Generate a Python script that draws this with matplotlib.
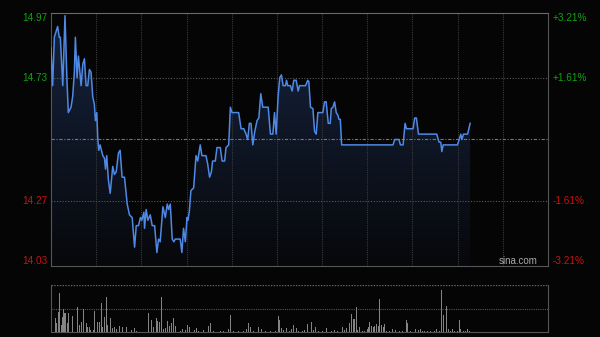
import numpy as np
import matplotlib.pyplot as plt
from matplotlib.colors import LinearSegmentedColormap

plt.rcParams['font.family'] = ['Liberation Sans', 'DejaVu Sans']

# minutes since open (HK session, 330 min) and price
t_price = [0, 1.1, 2.2, 4.4, 5.5, 6.2, 7.8, 9.3, 10.6, 11.5, 13.3, 14.4, 15.5, 16.2, 17.3, 18.2,
           20.0, 21.1, 22.2, 23.3, 24.4, 25.5, 26.6, 27.7, 28.8, 29.5, 30.4, 31.1, 31.7, 32.6,
           34.4, 35.5, 36.2, 37.0, 38.1, 39.3, 41.0, 42.1, 43.3, 44.8, 45.9, 47.2, 48.8, 50.6,
           52.1, 53.9, 55.5, 56.6, 58.1, 59.4, 60.3, 61.7, 62.1, 63.2, 64.3, 65.9, 67.2, 68.8,
           70.3, 71.4, 72.5, 73.2, 74.3, 75.9, 77.2, 78.1, 79.2, 80.5, 81.6,
           82.5, 85.8, 86.9, 88.0, 89.2, 90.3, 90.9, 91.8, 92.9, 94.7, 96.3, 97.4, 99.1, 100.2,
           102.9, 104.0, 105.3, 106.5, 107.3, 109.1, 110.2, 112.4, 113.6, 115.3, 116.2, 118.0,
           119.1, 120.2, 124.6, 126.2, 128.0, 129.5, 130.6, 131.7, 132.8, 134.0, 135.3, 136.8,
           138.0, 139.3, 140.6, 144.2, 145.7, 147.3, 148.4, 149.5, 150.8, 151.9, 153.0, 154.1,
           155.7, 156.4, 157.2, 159.0, 160.1, 161.2, 162.8, 164.1,
           165.0, 169.0, 170.5, 171.2, 172.3, 173.9, 175.0, 176.1, 177.2, 180.5, 181.6, 182.7,
           184.1, 185.4, 186.1, 187.2, 188.3, 189.4, 190.5, 191.2, 192.1, 193.0, 227.1, 228.2,
           231.1, 232.0, 233.8, 235.1, 236.0, 240.4, 241.5, 242.6, 244.0,
           245.5, 256.1, 257.7, 258.8, 259.5, 260.4, 269.9, 271.0, 272.1, 272.8, 273.9, 276.6, 278.3]
price = [14.84, 14.70, 14.88, 14.92, 14.88, 14.88, 14.70, 14.96, 14.72, 14.60, 14.62, 14.66, 14.75, 14.88, 14.73, 14.81,
         14.70, 14.78, 14.80, 14.70, 14.70, 14.76, 14.75, 14.66, 14.63, 14.57, 14.60, 14.50, 14.46, 14.48,
         14.44, 14.43, 14.39, 14.44, 14.35, 14.30, 14.40, 14.37, 14.38, 14.45, 14.46, 14.36, 14.36, 14.26,
         14.22, 14.21, 14.10, 14.18, 14.18, 14.21, 14.20, 14.23, 14.17, 14.24, 14.20, 14.22, 14.18, 14.18,
         14.08, 14.13, 14.12, 14.17, 14.25, 14.21, 14.26, 14.24, 14.26, 14.13, 14.12,
         14.13, 14.13, 14.08, 14.17, 14.12, 14.21, 14.20, 14.23, 14.31, 14.32, 14.44, 14.42, 14.48, 14.44,
         14.44, 14.41, 14.36, 14.38, 14.42, 14.42, 14.47, 14.47, 14.42, 14.42, 14.47, 14.48,
         14.62, 14.60, 14.60, 14.54, 14.54, 14.52, 14.50, 14.56, 14.56, 14.48, 14.53, 14.57,
         14.58, 14.67, 14.62, 14.62, 14.52, 14.52, 14.60, 14.52, 14.66, 14.73, 14.74, 14.70,
         14.70, 14.72, 14.70, 14.70, 14.68, 14.72, 14.72, 14.68,
         14.70, 14.70, 14.72, 14.715, 14.62, 14.615, 14.53, 14.52, 14.60, 14.60, 14.64, 14.64,
         14.56, 14.56, 14.615, 14.62, 14.64, 14.60, 14.59, 14.575, 14.575, 14.48, 14.48, 14.50,
         14.50, 14.48, 14.48, 14.56, 14.54, 14.54, 14.58, 14.58, 14.52,
         14.52, 14.52, 14.49, 14.49, 14.455, 14.48, 14.48, 14.50, 14.52, 14.50, 14.52, 14.52, 14.56]

t_vol = [1.6, 2.9, 3.8, 4.9, 5.5, 6.7, 7.5, 8.2, 8.9, 9.8, 10.9, 11.5, 12.6, 13.3, 14.4, 15.3, 16.6,
         17.7, 18.9, 20.4, 21.5, 22.6, 23.3, 24.2, 25.3, 26.4, 28.2, 28.8, 29.9, 31.0, 32.2, 33.3,
         34.4, 35.5, 36.6, 37.7, 39.7, 41.0, 42.1, 43.7, 45.2, 47.7, 50.3, 53.2, 55.4, 57.0, 64.8,
         66.5, 68.1, 69.9, 71.0, 72.1, 73.6, 74.7, 76.3, 77.6, 78.7, 79.8, 81.4, 82.5, 84.3, 85.8,
         87.6, 89.2, 90.7, 92.0, 93.6, 95.1, 96.5, 98.0, 99.6, 101.3, 102.9, 104.7, 105.8, 108.0,
         110.2, 112.4, 114.6, 118.0, 119.1, 121.3, 124.6, 128.0, 129.7, 131.3, 132.4, 134.6, 137.9,
         139.5, 142.4, 145.7, 149.0, 150.8, 151.9, 153.0, 154.6, 156.3, 158.1, 159.7, 161.2, 162.8,
         164.5, 166.8, 168.4, 170.6, 172.8, 174.1, 175.9, 177.9, 180.1, 182.8, 184.6, 186.3, 188.3,
         190.1, 191.9, 193.4, 195.0, 196.1, 197.2, 198.3, 199.4, 200.7, 201.6, 202.7, 203.8, 205.0,
         206.7, 208.3, 210.1, 210.7, 211.6, 212.7, 214.1, 214.9, 216.3, 217.2, 218.3, 219.4, 220.5,
         221.6, 222.9, 224.5, 226.7, 228.9, 231.1, 233.3, 235.8, 236.7, 238.9, 242.2, 243.8, 245.1,
         246.7, 248.2, 250.0, 252.2, 254.4, 256.2, 257.7, 259.3, 260.6, 262.6, 264.0, 265.1, 266.6,
         268.2, 270.0, 271.3, 272.2, 273.9, 275.5, 276.6, 278.1]
volume = [3, 137, 87, 203, 393, 70, 153, 227, 187, 187, 87, 187, 87, 70, 160, 93, 37,
          253, 70, 103, 227, 53, 93, 53, 47, 20, 20, 213, 227, 103, 103, 287,
          53, 153, 347, 70, 137, 37, 47, 27, 60, 47, 47, 20, 37, 13, 187,
          120, 47, 137, 113, 103, 347, 27, 37, 113, 60, 87, 137, 60, 20, 13,
          27, 20, 70, 47, 70, 20, 37, 13, 60, 20, 27, 60, 93, 13,
          20, 7, 7, 27, 170, 13, 10, 13, 27, 93, 53, 13, 47,
          27, 10, 13, 10, 160, 120, 37, 20, 37, 10, 27, 70, 37,
          13, 13, 20, 80, 103, 20, 53, 13, 10, 37, 13, 13, 20,
          10, 13, 47, 20, 37, 27, 93, 180, 130, 127, 253, 20, 47,
          13, 13, 27, 53, 103, 60, 47, 60, 80, 60, 327, 70, 47,
          80, 13, 10, 27, 20, 10, 10, 120, 87, 10, 27, 20, 27,
          13, 10, 10, 13, 13, 27, 13, 420, 170, 260, 27, 13, 27,
          10, 13, 120, 27, 13, 10, 27, 10]

prev_close = 14.50
left_ticks = [14.97, 14.73, 14.27, 14.03]
right_labels = ['+3.21%', '+1.61%', '-1.61%', '-3.21%']
tick_colors = ['#13a013', '#13a013', '#cc1111', '#cc1111']
tick_va = ['top', 'center', 'center', 'bottom']

bg = '#050505'
fig = plt.figure(figsize=(6, 3.37), dpi=100, facecolor=bg)
ax = fig.add_axes([51/600, 1-266/337, 497/600, 253/337], facecolor=bg)
axv = fig.add_axes([51/600, 1-332/337, 497/600, 47/337], facecolor=bg)

ymin, ymax = 14.03, 14.97
ax.set_xlim(0, 330)
ax.set_ylim(ymin, ymax)

# gradient fill under the price line
poly = ax.fill_between(t_price, price, ymin, color='none', lw=0)
cmap = LinearSegmentedColormap.from_list('g', ['#07080b', '#16243f'])
grad = np.linspace(0, 1, 256).reshape(-1, 1)
im = ax.imshow(grad, cmap=cmap, aspect='auto', origin='lower',
               extent=[0, 330, ymin, ymax], zorder=1)
im.set_clip_path(poly.get_paths()[0], transform=ax.transData)

ax.plot(t_price, price, color='#4f89e6', lw=1.1, zorder=3)

# grid
for t in range(30, 330, 30):
    ax.axvline(t, color='#3a3a3a', lw=0.8, ls=(0, (1, 1)), zorder=2)
for v in [14.73, 14.27]:
    ax.axhline(v, color='#5a5a5a', lw=0.8, ls=(0, (1, 1.5)), zorder=2)
ax.axhline(prev_close, color='#777777', lw=0.8, ls=(0, (3, 1.5, 1, 1.5)), zorder=2)

for s in ax.spines.values():
    s.set_color('#555555')
ax.spines['top'].set_color('#6a6a6a')
ax.set_xticks([])
ax.set_yticks(left_ticks)
ax.set_yticklabels([f'{v:.2f}' for v in left_ticks], fontsize=7.2)
for lab, c, va in zip(ax.get_yticklabels(), tick_colors, tick_va):
    lab.set_color(c)
    lab.set_va(va)
ax.tick_params(axis='y', length=0, pad=2.5)

axr = ax.twinx()
axr.set_ylim(ymin, ymax)
axr.set_yticks(left_ticks)
axr.set_yticklabels(right_labels, fontsize=7.2)
for lab, c, va in zip(axr.get_yticklabels(), tick_colors, tick_va):
    lab.set_color(c)
    lab.set_va(va)
axr.tick_params(axis='y', length=0, pad=3.5)
for s in axr.spines.values():
    s.set_visible(False)

ax.text(0.98, 0.0, 'sina.com', transform=ax.transAxes, ha='right', va='bottom',
        fontsize=7, color='#aaaaaa', zorder=5)

# volume panel
axv.bar(t_vol, volume, width=0.6, color='#848484', zorder=3)
axv.set_xlim(0, 330)
axv.set_ylim(0, 470)
axv.axhline(235, color='#555555', lw=0.8, ls=(0, (1, 1)), zorder=1)
axv.axhline(470, color='#666666', lw=1.0, ls=(0, (1, 1)), zorder=1)
axv.spines['top'].set_visible(False)
for k in ['left', 'right', 'bottom']:
    axv.spines[k].set_color('#555555')
axv.set_xticks([])
axv.set_yticks([])

fig.savefig('out.png', dpi=100, facecolor=bg)
